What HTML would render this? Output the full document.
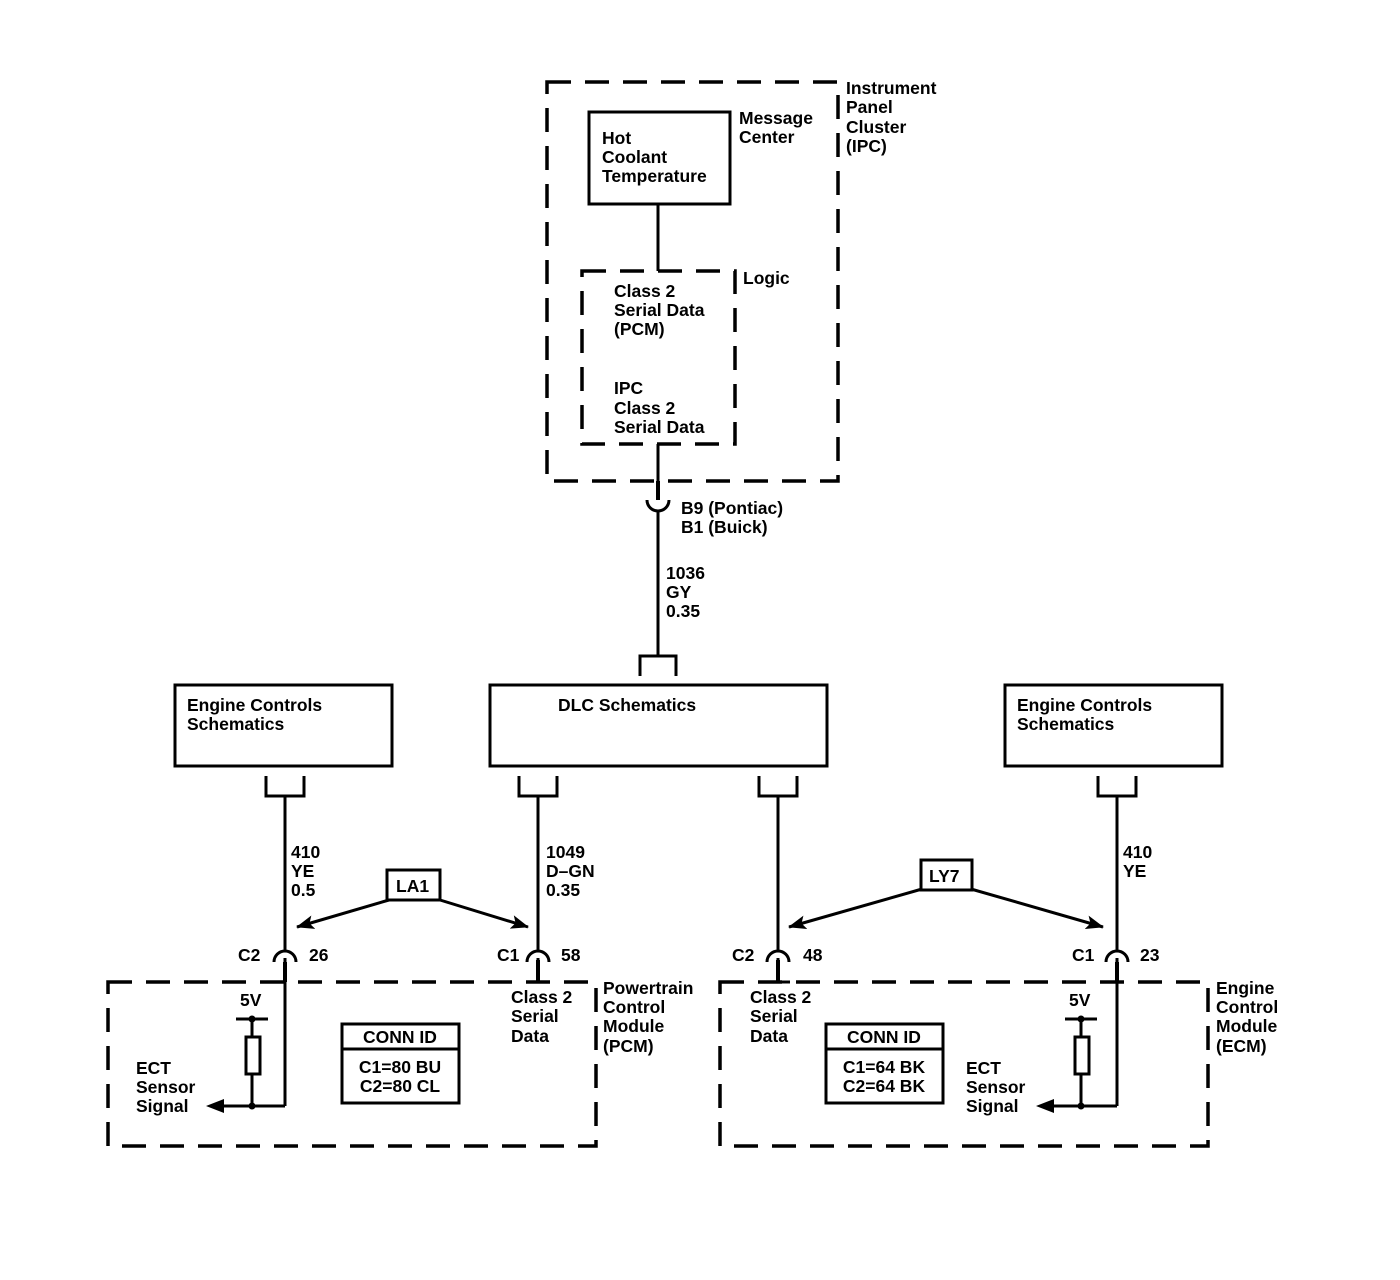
<!DOCTYPE html>
<html><head><style>body{margin:0;background:#fff}svg{display:block}text{font-family:"Liberation Sans",sans-serif;font-size:17.5px;font-weight:bold;fill:#000;letter-spacing:0px}</style></head><body>
<svg width="1400" height="1280" viewBox="0 0 1400 1280" xmlns="http://www.w3.org/2000/svg">
<defs>
<marker id="b" markerWidth="18" markerHeight="14" refX="17" refY="7" orient="auto" markerUnits="userSpaceOnUse"><path d="M0,0 L18,7 L0,14 L4,7 z"/></marker></defs>
<g fill="none" stroke="#000" stroke-width="3.5" stroke-dasharray="24 14">
<rect x="547" y="82" width="291" height="399"/>
<rect x="582" y="271" width="153" height="173"/>
<rect x="108" y="982" width="488" height="164"/>
<rect x="720" y="982" width="488" height="164"/>
</g>
<g fill="none" stroke="#000" stroke-width="3">
<rect x="589" y="112" width="141" height="92"/>
<rect x="490" y="685" width="337" height="81"/>
<rect x="175" y="685" width="217" height="81"/>
<rect x="1005" y="685" width="217" height="81"/>
<line x1="658" y1="204" x2="658" y2="271"/>
<line x1="658" y1="444" x2="658" y2="500"/>
<path d="M647,500 A11,11 0 0 0 669,500"/>
<line x1="658" y1="511" x2="658" y2="656"/>
<path d="M640,676 V656 H676 V676"/>
<path d="M266,776 V796 H304 V776"/><line x1="285" y1="796" x2="285" y2="950"/>
<path d="M519,776 V796 H557 V776"/><line x1="538" y1="796" x2="538" y2="950"/>
<path d="M759,776 V796 H797 V776"/><line x1="778" y1="796" x2="778" y2="950"/>
<path d="M1098,776 V796 H1136 V776"/><line x1="1117" y1="796" x2="1117" y2="950"/>
<path d="M274,962 A11,11 0 0 1 296,962"/>
<path d="M527,962 A11,11 0 0 1 549,962"/>
<path d="M767,962 A11,11 0 0 1 789,962"/>
<path d="M1106,962 A11,11 0 0 1 1128,962"/>
<line x1="285" y1="958" x2="285" y2="1106"/>
<line x1="285" y1="1106" x2="222" y2="1106"/>
<line x1="1117" y1="958" x2="1117" y2="1106"/>
<line x1="1117" y1="1106" x2="1052" y2="1106"/>
<path d="M538,958 V982 H550"/><path d="M778,958 V982 H790"/>
<line x1="236" y1="1019" x2="268" y2="1019"/><line x1="252" y1="1019" x2="252" y2="1106"/>
<line x1="1065" y1="1019" x2="1097" y2="1019"/><line x1="1081" y1="1019" x2="1081" y2="1106"/>
<rect x="342" y="1024" width="117" height="79"/><line x1="342" y1="1049" x2="459" y2="1049"/>
<rect x="826" y="1024" width="117" height="79"/><line x1="826" y1="1049" x2="943" y2="1049"/>
<rect x="387" y="870" width="53" height="30"/>
<rect x="921" y="860" width="51" height="30"/>
</g>
<g stroke="#000" stroke-width="4"><line x1="285" y1="962" x2="285" y2="982"/><line x1="538" y1="960" x2="538" y2="982"/><line x1="778" y1="960" x2="778" y2="982"/><line x1="1117" y1="962" x2="1117" y2="982"/><line x1="658" y1="481" x2="658" y2="500"/></g>
<rect x="246" y="1037" width="14" height="37" fill="#fff" stroke="#000" stroke-width="3"/>
<rect x="1075" y="1037" width="14" height="37" fill="#fff" stroke="#000" stroke-width="3"/>
<g fill="#000"><circle cx="252" cy="1019" r="3.5"/><circle cx="252" cy="1106" r="3.5"/><circle cx="1081" cy="1019" r="3.5"/><circle cx="1081" cy="1106" r="3.5"/>
<path d="M206,1106 L224,1099 L224,1113 z"/><path d="M1036,1106 L1054,1099 L1054,1113 z"/></g>
<g stroke="#000" stroke-width="3" fill="none">
<line x1="389" y1="900" x2="297" y2="927" marker-end="url(#b)"/>
<line x1="440" y1="900" x2="528" y2="927" marker-end="url(#b)"/>
<line x1="922" y1="889" x2="789" y2="927" marker-end="url(#b)"/>
<line x1="971" y1="889" x2="1103" y2="927" marker-end="url(#b)"/>
</g>
<g>
<text x="602" y="144">Hot</text><text x="602" y="163">Coolant</text><text x="602" y="182">Temperature</text>
<text x="739" y="124">Message</text><text x="739" y="143">Center</text>
<text x="846" y="94">Instrument</text><text x="846" y="113">Panel</text><text x="846" y="133">Cluster</text><text x="846" y="152">(IPC)</text>
<text x="743" y="284">Logic</text>
<text x="614" y="297">Class 2</text><text x="614" y="316">Serial Data</text><text x="614" y="335">(PCM)</text>
<text x="614" y="394">IPC</text><text x="614" y="414">Class 2</text><text x="614" y="433">Serial Data</text>
<text x="681" y="514">B9 (Pontiac)</text><text x="681" y="533">B1 (Buick)</text>
<text x="666" y="579">1036</text><text x="666" y="598">GY</text><text x="666" y="617">0.35</text>
<text x="558" y="711">DLC Schematics</text>
<text x="187" y="711">Engine Controls</text><text x="187" y="730">Schematics</text>
<text x="1017" y="711">Engine Controls</text><text x="1017" y="730">Schematics</text>
<text x="291" y="858">410</text><text x="291" y="877">YE</text><text x="291" y="896">0.5</text>
<text x="546" y="858">1049</text><text x="546" y="877">D–GN</text><text x="546" y="896">0.35</text>
<text x="1123" y="858">410</text><text x="1123" y="877">YE</text>
<text x="396" y="892">LA1</text><text x="929" y="882">LY7</text>
<text x="238" y="961">C2</text><text x="309" y="961">26</text>
<text x="497" y="961">C1</text><text x="561" y="961">58</text>
<text x="732" y="961">C2</text><text x="803" y="961">48</text>
<text x="1072" y="961">C1</text><text x="1140" y="961">23</text>
<text x="511" y="1003">Class 2</text><text x="511" y="1022">Serial</text><text x="511" y="1042">Data</text>
<text x="603" y="994">Powertrain</text><text x="603" y="1013">Control</text><text x="603" y="1032">Module</text><text x="603" y="1052">(PCM)</text>
<text x="750" y="1003">Class 2</text><text x="750" y="1022">Serial</text><text x="750" y="1042">Data</text>
<text x="1216" y="994">Engine</text><text x="1216" y="1013">Control</text><text x="1216" y="1032">Module</text><text x="1216" y="1052">(ECM)</text>
<text x="240" y="1006">5V</text><text x="1069" y="1006">5V</text>
<text x="136" y="1074">ECT</text><text x="136" y="1093">Sensor</text><text x="136" y="1112">Signal</text>
<text x="966" y="1074">ECT</text><text x="966" y="1093">Sensor</text><text x="966" y="1112">Signal</text>
<text x="400" y="1043" text-anchor="middle">CONN ID</text><text x="400" y="1073" text-anchor="middle">C1=80 BU</text><text x="400" y="1092" text-anchor="middle">C2=80 CL</text>
<text x="884" y="1043" text-anchor="middle">CONN ID</text><text x="884" y="1073" text-anchor="middle">C1=64 BK</text><text x="884" y="1092" text-anchor="middle">C2=64 BK</text>
</g>
</svg>
</body></html>
